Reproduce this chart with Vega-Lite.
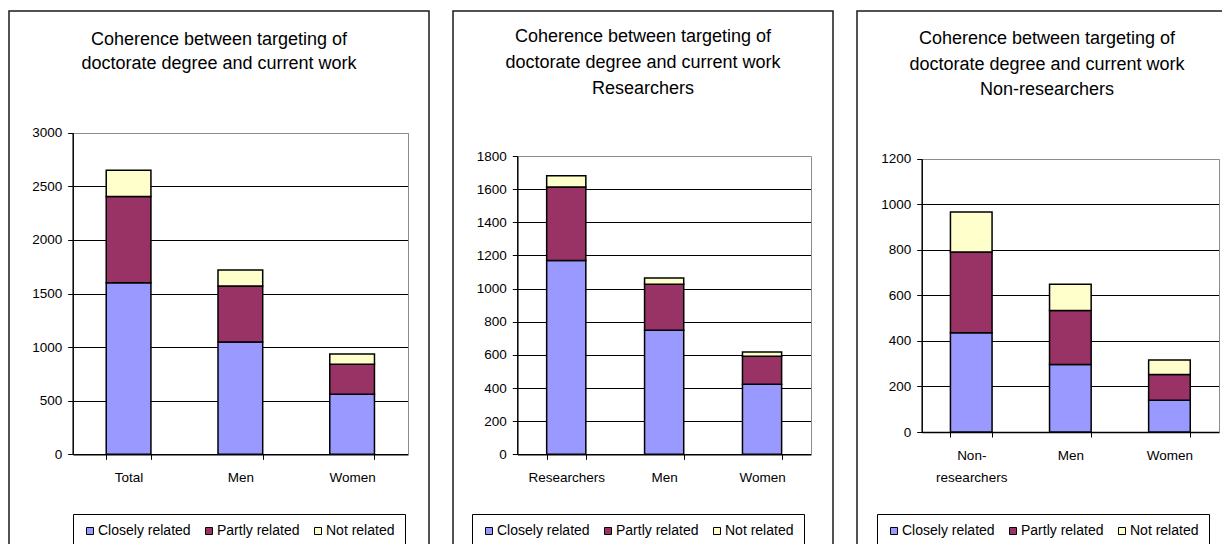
{
  "$schema": "https://vega.github.io/schema/vega-lite/v6.json",
  "padding": {"left": 8, "top": 10, "right": 0, "bottom": 0},
  "background": "white",
  "config": {
    "font": "Liberation Sans",
    "view": {"stroke": "#1a1a1a", "strokeWidth": 1.5},
    "axis": {"labelFont": "Liberation Sans", "labelFontSize": 13.5, "labelColor": "black", "title": null},
    "legend": {"labelFont": "Liberation Sans", "labelFontSize": 14, "labelColor": "black"}
  },
  "hconcat": [
    {
      "width": 420, "height": 540,
      "title": {"text": ["Coherence between targeting of", "doctorate degree and current work"], "fontSize": 18, "fontWeight": "normal", "lineHeight": 24, "anchor": "middle", "frame": "group", "baseline": "top", "offset": -62, "color": "black", "font": "Liberation Sans"},
      "data": {"values": [
        {"group": "Total", "relation": "Closely related", "value": 1600},
        {"group": "Total", "relation": "Partly related", "value": 805},
        {"group": "Total", "relation": "Not related", "value": 245},
        {"group": "Men", "relation": "Closely related", "value": 1048},
        {"group": "Men", "relation": "Partly related", "value": 522},
        {"group": "Men", "relation": "Not related", "value": 150},
        {"group": "Women", "relation": "Closely related", "value": 560},
        {"group": "Women", "relation": "Partly related", "value": 279},
        {"group": "Women", "relation": "Not related", "value": 97}
      ]},
      "transform": [{"calculate": "indexof(['Closely related', 'Partly related', 'Not related'], datum.relation)", "as": "rank"}],
      "layer": [
        {
          "mark": {"type": "bar", "stroke": "black", "strokeWidth": 1.5},
          "encoding": {
            "x": {"field": "group", "type": "nominal", "sort": ["Total", "Men", "Women"],
              "scale": {"range": [63.7, 399], "paddingInner": 0.6, "paddingOuter": 0.3},
              "axis": {"orient": "bottom", "offset": -96.7, "tickBand": "extent", "tickSize": 5, "tickColor": "black", "tickWidth": 1, "domainColor": "black", "domainWidth": 1.5, "labelAngle": 0, "labelPadding": 11}},
            "y": {"field": "value", "type": "quantitative", "stack": "zero",
              "scale": {"domain": [0, 3000], "range": [443.3, 121.7], "nice": false, "zero": true},
              "axis": {"orient": "left", "offset": -63.7, "format": "d", "values": [0, 500, 1000, 1500, 2000, 2500, 3000], "tickSize": 5, "tickColor": "black", "domainColor": "black", "domainWidth": 1.5, "labelPadding": 6, "grid": true, "gridWidth": 1, "gridColor": {"condition": {"test": "datum.value == 3000", "value": "#8c8c8c"}, "value": "black"}}},
            "order": {"field": "rank", "type": "quantitative", "sort": "ascending"},
            "color": {"field": "relation", "type": "nominal", "sort": ["Closely related", "Partly related", "Not related"],
              "scale": {"domain": ["Closely related", "Partly related", "Not related"], "range": ["#9999FF", "#993366", "#FFFFCC"]},
              "legend": {"orient": "none", "legendX": 64, "legendY": 503, "direction": "horizontal", "title": null, "strokeColor": "black", "padding": 10, "symbolType": "square", "symbolSize": 49, "symbolStrokeColor": "black", "symbolStrokeWidth": 1, "columnPadding": 11, "labelOffset": 1}}
          }
        },
        {
          "mark": {"type": "bar", "opacity": 0},
          "encoding": {
            "x": {"field": "group", "type": "nominal", "sort": ["Total", "Men", "Women"], "axis": null},
            "y": {"field": "value", "type": "quantitative", "stack": "zero",
              "axis": {"orient": "right", "offset": -21, "ticks": false, "labels": false, "grid": false, "domainColor": "#8c8c8c", "domainWidth": 1}}
          }
        }
      ],
      "resolve": {"axis": {"x": "independent", "y": "independent"}}
    },
    {
      "width": 380, "height": 540,
      "title": {"text": ["Coherence between targeting of", "doctorate degree and current work", "Researchers"], "fontSize": 18, "fontWeight": "normal", "lineHeight": 26, "anchor": "middle", "frame": "group", "baseline": "top", "offset": -87, "color": "black", "font": "Liberation Sans"},
      "data": {"values": [
        {"group": "Researchers", "relation": "Closely related", "value": 1170},
        {"group": "Researchers", "relation": "Partly related", "value": 443},
        {"group": "Researchers", "relation": "Not related", "value": 68},
        {"group": "Men", "relation": "Closely related", "value": 748},
        {"group": "Men", "relation": "Partly related", "value": 278},
        {"group": "Men", "relation": "Not related", "value": 38},
        {"group": "Women", "relation": "Closely related", "value": 422},
        {"group": "Women", "relation": "Partly related", "value": 169},
        {"group": "Women", "relation": "Not related", "value": 26}
      ]},
      "transform": [{"calculate": "indexof(['Closely related', 'Partly related', 'Not related'], datum.relation)", "as": "rank"}],
      "layer": [
        {
          "mark": {"type": "bar", "stroke": "black", "strokeWidth": 1.5},
          "encoding": {
            "x": {"field": "group", "type": "nominal", "sort": ["Researchers", "Men", "Women"],
              "scale": {"range": [64.3, 358], "paddingInner": 0.6, "paddingOuter": 0.3},
              "axis": {"orient": "bottom", "offset": -96.7, "tickBand": "extent", "tickSize": 5, "tickColor": "black", "tickWidth": 1, "domainColor": "black", "domainWidth": 1.5, "labelAngle": 0, "labelPadding": 11}},
            "y": {"field": "value", "type": "quantitative", "stack": "zero",
              "scale": {"domain": [0, 1800], "range": [443.3, 145], "nice": false, "zero": true},
              "axis": {"orient": "left", "offset": -64.3, "format": "d", "values": [0, 200, 400, 600, 800, 1000, 1200, 1400, 1600, 1800], "tickSize": 5, "tickColor": "black", "domainColor": "black", "domainWidth": 1.5, "labelPadding": 6, "grid": true, "gridWidth": 1, "gridColor": {"condition": {"test": "datum.value == 1800", "value": "#8c8c8c"}, "value": "black"}}},
            "order": {"field": "rank", "type": "quantitative", "sort": "ascending"},
            "color": {"field": "relation", "type": "nominal", "sort": ["Closely related", "Partly related", "Not related"],
              "scale": {"domain": ["Closely related", "Partly related", "Not related"], "range": ["#9999FF", "#993366", "#FFFFCC"]},
              "legend": {"orient": "none", "legendX": 19, "legendY": 503, "direction": "horizontal", "title": null, "strokeColor": "black", "padding": 10, "symbolType": "square", "symbolSize": 49, "symbolStrokeColor": "black", "symbolStrokeWidth": 1, "columnPadding": 11, "labelOffset": 1}}
          }
        },
        {
          "mark": {"type": "bar", "opacity": 0},
          "encoding": {
            "x": {"field": "group", "type": "nominal", "sort": ["Researchers", "Men", "Women"], "axis": null},
            "y": {"field": "value", "type": "quantitative", "stack": "zero",
              "axis": {"orient": "right", "offset": -22, "ticks": false, "labels": false, "grid": false, "domainColor": "#8c8c8c", "domainWidth": 1}}
          }
        }
      ],
      "resolve": {"axis": {"x": "independent", "y": "independent"}}
    },
    {
      "width": 380, "height": 540,
      "title": {"text": ["Coherence between targeting of", "doctorate degree and current work", "Non-researchers"], "fontSize": 18, "fontWeight": "normal", "lineHeight": 25.5, "anchor": "middle", "frame": "group", "baseline": "top", "offset": -88, "color": "black", "font": "Liberation Sans"},
      "data": {"values": [
        {"group": "Non-researchers", "relation": "Closely related", "value": 436},
        {"group": "Non-researchers", "relation": "Partly related", "value": 355},
        {"group": "Non-researchers", "relation": "Not related", "value": 175},
        {"group": "Men", "relation": "Closely related", "value": 297},
        {"group": "Men", "relation": "Partly related", "value": 237},
        {"group": "Men", "relation": "Not related", "value": 115},
        {"group": "Women", "relation": "Closely related", "value": 139},
        {"group": "Women", "relation": "Partly related", "value": 114},
        {"group": "Women", "relation": "Not related", "value": 63}
      ]},
      "transform": [{"calculate": "indexof(['Closely related', 'Partly related', 'Not related'], datum.relation)", "as": "rank"}],
      "layer": [
        {
          "mark": {"type": "bar", "stroke": "black", "strokeWidth": 1.5},
          "encoding": {
            "x": {"field": "group", "type": "nominal", "sort": ["Non-researchers", "Men", "Women"],
              "scale": {"range": [64.7, 362], "paddingInner": 0.58, "paddingOuter": 0.29},
              "axis": {"orient": "bottom", "offset": -119, "tickBand": "extent", "tickSize": 5, "tickColor": "black", "tickWidth": 1, "domainColor": "black", "domainWidth": 1.5, "labelAngle": 0, "labelPadding": 11, "labelLineHeight": 22, "labelExpr": "datum.value == 'Non-researchers' ? ['Non-', 'researchers'] : datum.value"}},
            "y": {"field": "value", "type": "quantitative", "stack": "zero",
              "scale": {"domain": [0, 1200], "range": [421, 147.8], "nice": false, "zero": true},
              "axis": {"orient": "left", "offset": -64.7, "format": "d", "values": [0, 200, 400, 600, 800, 1000, 1200], "tickSize": 5, "tickColor": "black", "domainColor": "black", "domainWidth": 1.5, "labelPadding": 6, "grid": true, "gridWidth": 1, "gridColor": {"condition": {"test": "datum.value == 1200", "value": "#8c8c8c"}, "value": "black"}}},
            "order": {"field": "rank", "type": "quantitative", "sort": "ascending"},
            "color": {"field": "relation", "type": "nominal", "sort": ["Closely related", "Partly related", "Not related"],
              "scale": {"domain": ["Closely related", "Partly related", "Not related"], "range": ["#9999FF", "#993366", "#FFFFCC"]},
              "legend": {"orient": "none", "legendX": 20, "legendY": 503, "direction": "horizontal", "title": null, "strokeColor": "black", "padding": 10, "symbolType": "square", "symbolSize": 49, "symbolStrokeColor": "black", "symbolStrokeWidth": 1, "columnPadding": 11, "labelOffset": 1}}
          }
        },
        {
          "mark": {"type": "bar", "opacity": 0},
          "encoding": {
            "x": {"field": "group", "type": "nominal", "sort": ["Non-researchers", "Men", "Women"], "axis": null},
            "y": {"field": "value", "type": "quantitative", "stack": "zero",
              "axis": {"orient": "right", "offset": -18, "ticks": false, "labels": false, "grid": false, "domainColor": "#8c8c8c", "domainWidth": 1}}
          }
        }
      ],
      "resolve": {"axis": {"x": "independent", "y": "independent"}}
    }
  ],
  "resolve": {"scale": {"color": "independent"}, "legend": {"color": "independent"}},
  "spacing": 22
}
